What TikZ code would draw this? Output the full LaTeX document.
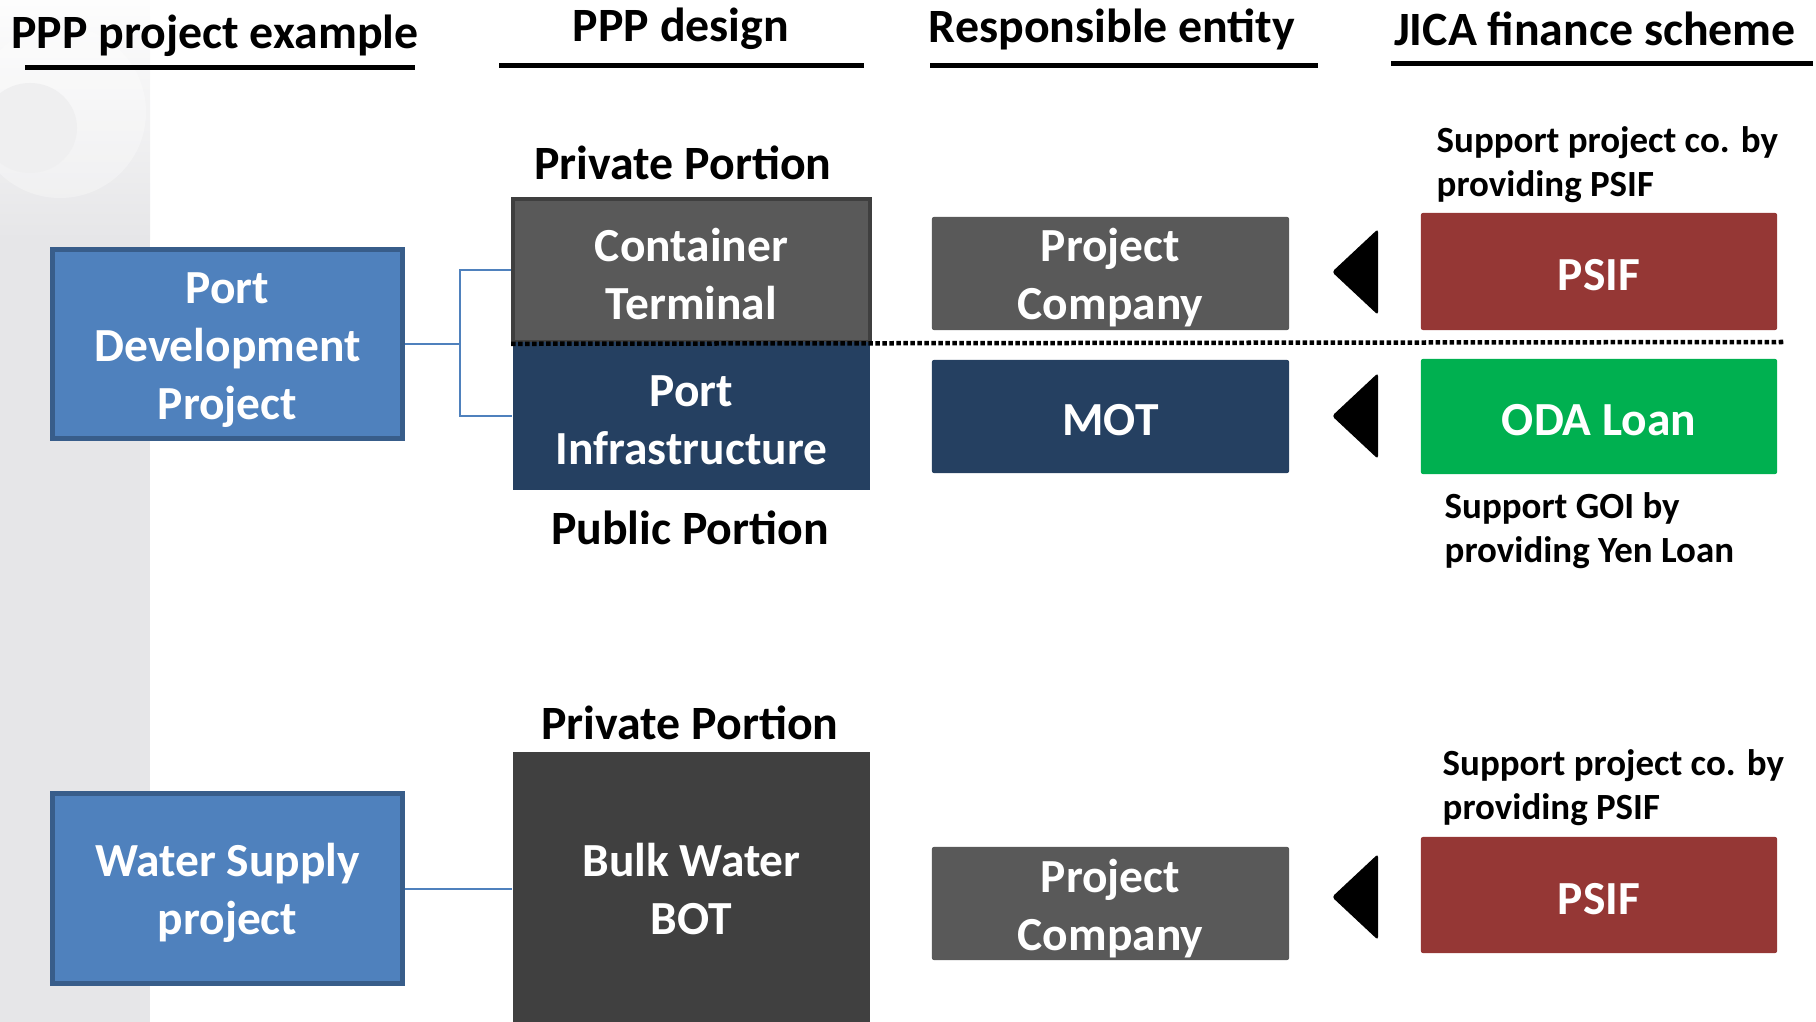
\documentclass[tikz,border=0pt]{standalone}
\usepackage{fontspec}
\setmainfont{Carlito}
\usepackage{tikz}
\usetikzlibrary{positioning,calc}
\usepackage{xcolor}
\definecolor{ppblue}{RGB}{79,129,189}
\definecolor{ppblueline}{RGB}{56,93,138}
\definecolor{ppgray}{RGB}{89,89,89}
\definecolor{ppgrayline}{RGB}{63,63,63}
\definecolor{ppdark}{RGB}{64,64,64}
\definecolor{ppnavy}{RGB}{37,64,97}
\definecolor{ppred}{RGB}{149,55,53}
\definecolor{ppgreen}{RGB}{0,176,80}
\definecolor{ppstrip}{RGB}{230,230,232}
\tikzstyle{bigtext} = [text=white, align=center, font=\fontsize{13.5}{16.5}\selectfont\bfseries]
\tikzstyle{boxtext} = [bigtext, yshift=-1.1pt]
\tikzstyle{projbox} = [rectangle, minimum width=3.5cm, minimum height=1.89cm, fill=ppblue, draw=ppblueline, line width=0.05cm]
\tikzstyle{partbox} = [rectangle, minimum width=3.57cm, inner sep=0pt]
\tikzstyle{entbox} = [rectangle, minimum width=3.57cm, minimum height=1.13cm, inner sep=0pt, rounded corners=0.02cm]
\tikzstyle{hdr} = [font=\fontsize{13.6}{16}\selectfont\bfseries]
\tikzstyle{note} = [anchor=west, align=left, inner sep=0pt, font=\fontsize{10.5}{12.6}\selectfont\bfseries]
\tikzstyle{link} = [line width=0.02cm, color=ppblue]
\tikzstyle{rule} = [line width=0.05cm]

\begin{document}
\begin{tikzpicture}[x=0.01cm, y=-0.01cm]
\useasboundingbox (0,0) rectangle (1816,1022);
\clip (0,0) rectangle (1816,1022);

% Left strip
\fill[ppstrip] (0,0) rectangle (150,1022);
\begin{scope}
\clip (0,0) rectangle (150,1022);
\shade[top color=white!92!ppstrip, bottom color=ppstrip] (0,0) rectangle (150,240);
\fill[white, opacity=0.3] (60,112) circle (86);
\fill[white!35!ppstrip] (30,128) ellipse (47 and 45);
\end{scope}

% Column headers
\node[hdr] (h1) at (215,36) {PPP project example};
\node[hdr] (h2) at (681,29) {PPP design};
\node[hdr] (h3) at (1112,29) {Responsible entity};
\node[hdr] (h4) at (1595,29) {JICA finance scheme};
\draw[rule] (25,68) -- (415,68);
\draw[rule] (499,66) -- (864,66);
\draw[rule] (930,66) -- (1318,66);
\draw[rule] (1391,64) -- (1813,64);

% Projects
\node[projbox, label={[boxtext, yshift=-0.6pt]center:Port\\Development\\Project}] (pdp) at (227.5,344) {};
\node[projbox, label={[boxtext]center:Water Supply\\project}] (wsp) at (227.5,888.5) {};

% PPP design
\node[partbox, minimum height=1.43cm, fill=ppgray, draw=ppgrayline, line width=0.035cm,
      label={[boxtext]center:Container\\Terminal}] (ct) at (691.5,270.5) {};
\node[partbox, minimum height=1.48cm, fill=ppnavy,
      label={[boxtext]center:Port\\Infrastructure}] (pi) at (691.5,416) {};
\node[partbox, minimum height=2.74cm, fill=ppdark,
      label={[bigtext]center:Bulk Water\\BOT}] (bwb) at (691.5,889) {};
\node[hdr] (priv1) at (683,163) {Private Portion};
\node[hdr] (pub1) at (690,528) {Public Portion};
\node[hdr] (priv2) at (690,723) {Private Portion};

% Links
\coordinate (fork) at (460,344);
\draw[link] (pdp.east) -- (fork);
\draw[link] (ct.west) -| (fork) |- (pi.west);
\draw[link] (wsp.east) -- (wsp.east -| bwb.west);

% Responsible entity
\node[entbox, fill=ppgray, label={[boxtext]center:Project\\Company}] (pc1) at (1110.5,273.5) {};
\node[entbox, fill=ppnavy, label={[boxtext]center:MOT}] (mot) at (1110.5,416.5) {};
\node[entbox, fill=ppgray, label={[boxtext, yshift=-0.3pt]center:Project\\Company}] (pc2) at (1110.5,903.5) {};

% JICA finance
\node[entbox, minimum width=3.56cm, minimum height=1.17cm, fill=ppred,
      label={[boxtext]center:PSIF}] (psif1) at (1599,271.5) {};
\node[entbox, minimum width=3.56cm, minimum height=1.15cm, fill=ppgreen,
      label={[boxtext]center:ODA Loan}] (oda) at (1599,416.5) {};
\node[entbox, minimum width=3.56cm, minimum height=1.16cm, fill=ppred,
      label={[boxtext]center:PSIF}] (psif2) at (1599,895) {};
\node[note] (n1) at (1436,165) {Support project co. by\\providing PSIF};
\node[note] (n2) at (1444,531) {Support GOI by\\providing Yen Loan};
\node[note] (n3) at (1442,788) {Support project co. by\\providing PSIF};

% Pointers
\foreach \y in {272,416,897}
  \fill[rounded corners=0.03cm] (1332,\y) -- (1378,\y-43) -- (1378,\y+43) -- cycle;

% Private / public split
\coordinate (splitend) at (1784,342);
\draw[line width=0.045cm, dash pattern=on 0.045cm off 0.025cm] (ct.south west) -- (splitend);
\end{tikzpicture}
\end{document}
